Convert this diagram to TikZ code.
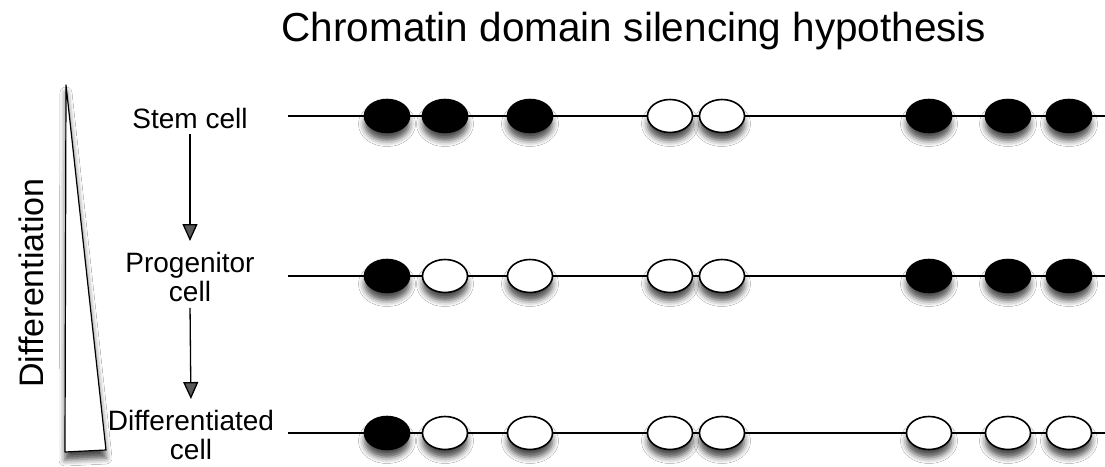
\documentclass[tikz,border=0pt]{standalone}
\usepackage{fontspec}
\setmainfont{Liberation Sans}
\usetikzlibrary{shapes.geometric,shadows.blur,arrows.meta}

\tikzset{
  soft/.style={blur shadow={shadow xshift=0pt, shadow yshift=-8pt,
      shadow blur radius=6pt, shadow opacity=70}},
  chromdom/.style={ellipse, draw=black, line width=1.6pt, inner sep=0pt,
      minimum width=45pt, minimum height=33pt, soft},
  darkdom/.style={chromdom, fill=black},
  lightdom/.style={chromdom, fill=white},
  fiber/.style={line width=1.8pt},
  stagelabel/.style={font=\fontsize{28}{29}\selectfont, align=center, inner sep=2pt},
  progress/.style={-{Triangle[length=17pt,width=15pt]}, line width=1.3pt,
      shorten <=4pt, shorten >=9pt}
}

\begin{document}
\begin{tikzpicture}[x=1pt,y=-1pt]
\useasboundingbox (0,0) rectangle (1105,466);
\fill[white] (0,0) rectangle (1105,466);

% title
\node (title) at (634,31) {\fontsize{40.5}{44}\selectfont Chromatin domain silencing hypothesis};

% differentiation wedge
\draw[fill=white, line width=1.2pt, line join=round, soft]
  (66,85) -- (106,450) -- (65,452) -- cycle;
\node[rotate=90, font=\fontsize{34}{38}\selectfont] (axis) at (31,283) {Differentiation};

% stage labels
\node[stagelabel] (stem) at (190,118) {Stem cell};
\node[stagelabel] (prog) at (190,277) {Progenitor\\cell};
\node[stagelabel] (diff) at (191,435) {Differentiated\\cell};

\draw[progress] (stem.south) -- (prog.north);
\draw[progress] (prog.south) -- (diff.north);

% chromatin fibres
\foreach \row/\y in {s/116, p/276, d/433} {
  \coordinate (\row L) at (288,\y);
  \coordinate (\row R) at (1105,\y);
  \draw[fiber] (\row L) -- (\row R);
}

% domains: stem cell
\node[darkdom]  (s1) at (387,116) {};
\node[darkdom]  (s2) at (445,116) {};
\node[darkdom]  (s3) at (530,116) {};
\node[lightdom] (s4) at (670,116) {};
\node[lightdom] (s5) at (722,116) {};
\node[darkdom]  (s6) at (929,116) {};
\node[darkdom]  (s7) at (1008,116) {};
\node[darkdom]  (s8) at (1069,116) {};

% domains: progenitor cell
\node[darkdom]  (p1) at (387,276) {};
\node[lightdom] (p2) at (445,276) {};
\node[lightdom] (p3) at (530,276) {};
\node[lightdom] (p4) at (670,276) {};
\node[lightdom] (p5) at (722,276) {};
\node[darkdom]  (p6) at (929,276) {};
\node[darkdom]  (p7) at (1008,276) {};
\node[darkdom]  (p8) at (1069,276) {};

% domains: differentiated cell
\node[darkdom]  (d1) at (387,433) {};
\node[lightdom] (d2) at (445,433) {};
\node[lightdom] (d3) at (530,433) {};
\node[lightdom] (d4) at (670,433) {};
\node[lightdom] (d5) at (722,433) {};
\node[lightdom] (d6) at (929,433) {};
\node[lightdom] (d7) at (1008,433) {};
\node[lightdom] (d8) at (1069,433) {};
\end{tikzpicture}
\end{document}
